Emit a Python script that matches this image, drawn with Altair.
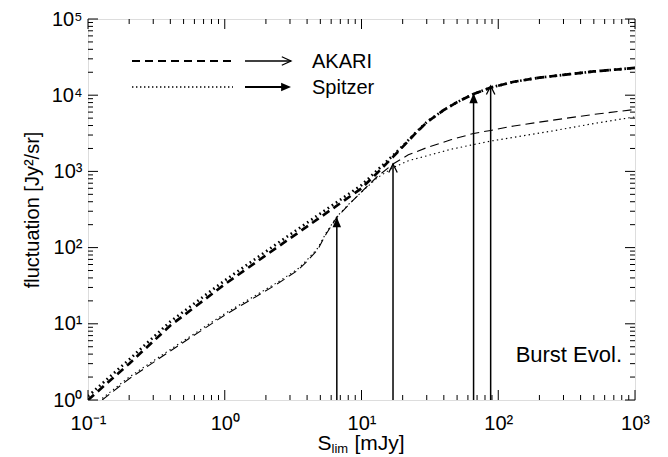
import altair as alt
import pandas as pd
import math

# ---------------- data ----------------
thick_S = [0.1, 0.2, 0.4, 1.0, 2.4, 5.0, 10, 13, 17, 20, 25, 30, 40, 50, 66, 88, 130, 200, 300, 500, 1000]
thick_akari = [1.0, 3.0, 9.5, 33, 100, 250, 600, 950, 1550, 2100, 3200, 4400, 6400, 8100, 10400, 12600, 15000, 17000, 18500, 20500, 22800]
thick_spitzer = [1.12, 3.4, 10.7, 37, 112, 280, 660, 1030, 1620, 2150, 3250, 4450, 6400, 8100, 10400, 12600, 15000, 17000, 18500, 20500, 22800]

thin_S = [0.127, 0.2, 0.4, 1.0, 2.4, 3.4, 4.0, 4.8, 5.5, 6.6, 8, 10, 13, 17, 22, 30, 45, 66, 88, 130, 250, 500, 1000]
thin_akari = [1.0, 1.9, 4.4, 13, 33, 50, 66, 95, 150, 250, 360, 540, 850, 1250, 1650, 2050, 2600, 3150, 3450, 3950, 4700, 5600, 6500]
thin_spitzer = [1.05, 2.0, 4.6, 13.6, 34.5, 52, 69, 99, 155, 255, 365, 535, 820, 1120, 1380, 1600, 1950, 2250, 2500, 2800, 3400, 4250, 5200]

arrow_S = [6.6, 17, 66, 88]
arrow_top = [250, 1250, 10600, 13200]
arrow_survey = ["Spitzer", "AKARI", "Spitzer", "AKARI"]
arrow_base = 1.0

x_major = [0.1, 1, 10, 100, 1000]
x_major_labels = ["10⁻¹", "10⁰", "10¹", "10²", "10³"]
y_major = [1, 10, 100, 1000, 10000, 100000]
y_major_labels = ["10⁰", "10¹", "10²", "10³", "10⁴", "10⁵"]
minor_mult = [2, 3, 4, 5, 6, 7, 8, 9]

# ---------------- layout ----------------
W, H = 547, 381
FONT = "Liberation Sans"
LFS = 20
xs = alt.Scale(type="log", domain=[0.1, 1000], nice=False)
ys = alt.Scale(type="log", domain=[1, 100000], nice=False)

def label_expr(vals, labels):
    parts = [f"abs(log(datum.value)/LN10 - ({math.log10(v)})) < 0.01 ? '{l}'" for v, l in zip(vals, labels)]
    return " : ".join(parts) + " : ''"

def line(S, F, width, dash):
    df = pd.DataFrame({"S": S, "F": F})
    return alt.Chart(df).mark_line(color="black", strokeWidth=width, strokeDash=dash, clip=True).encode(
        x=alt.X("S:Q", scale=xs,
                axis=alt.Axis(values=x_major, labelExpr=label_expr(x_major, x_major_labels),
                              ticks=False, domain=False, grid=False, labelFontSize=LFS,
                              labelFont=FONT, labelColor="black", labelPadding=13, title=None,
                              labelFlush=False)),
        y=alt.Y("F:Q", scale=ys,
                axis=alt.Axis(values=y_major, labelExpr=label_expr(y_major, y_major_labels),
                              ticks=False, domain=False, grid=False, labelFontSize=LFS,
                              labelFont=FONT, labelColor="black", labelPadding=6,
                              title="fluctuation [Jy²/sr]", titleFont=FONT, titleFontSize=20,
                              titleFontWeight="normal", titleColor="black", titlePadding=9,
                              labelFlush=False)),
        order="S:Q",
    )

layers = [
    line(thick_S, thick_akari, 2.7, [8, 5]),
    line(thick_S, thick_spitzer, 2.7, [1.6, 3.4]),
    line(thin_S, thin_akari, 1.1, [9, 5]),
    line(thin_S, thin_spitzer, 1.1, [1.4, 3.2]),
]

# arrows
arr = pd.DataFrame({"S": arrow_S, "top": arrow_top, "base": [arrow_base] * len(arrow_S), "survey": arrow_survey})
layers.append(alt.Chart(arr).mark_rule(color="black", strokeWidth=1.5).encode(
    x=alt.X("S:Q", scale=xs), y=alt.Y("base:Q", scale=ys), y2="top:Q"))
head_filled = "M0,0L1.2,2.8L-1.2,2.8Z"
head_open = "M-1.2,2.4L0,0L1.2,2.4"
layers.append(alt.Chart(arr).transform_filter("datum.survey == 'Spitzer'").mark_point(
    shape=head_filled, filled=True, color="black", size=50, opacity=1).encode(
    x=alt.X("S:Q", scale=xs), y=alt.Y("top:Q", scale=ys)))
layers.append(alt.Chart(arr).transform_filter("datum.survey == 'AKARI'").mark_point(
    shape=head_open, filled=False, color="black", size=50, strokeWidth=1.3, opacity=1).encode(
    x=alt.X("S:Q", scale=xs), y=alt.Y("top:Q", scale=ys)))

# ticks (inward, on all four sides)
x_minor = [m * d for d in x_major[:-1] for m in minor_mult]
y_minor = [m * d for d in y_major[:-1] for m in minor_mult]
MAJ, MIN = 10, 5
for vals, ln in ((x_major, MAJ), (x_minor, MIN)):
    d = pd.DataFrame({"v": vals})
    layers.append(alt.Chart(d).mark_rule(color="black", strokeWidth=1).encode(
        x=alt.X("v:Q", scale=xs), y=alt.value(H), y2=alt.value(H - ln)))
    layers.append(alt.Chart(d).mark_rule(color="black", strokeWidth=1).encode(
        x=alt.X("v:Q", scale=xs), y=alt.value(0), y2=alt.value(ln)))
for vals, ln in ((y_major, MAJ), (y_minor, MIN)):
    d = pd.DataFrame({"v": vals})
    layers.append(alt.Chart(d).mark_rule(color="black", strokeWidth=1).encode(
        y=alt.Y("v:Q", scale=ys), x=alt.value(0), x2=alt.value(ln)))
    layers.append(alt.Chart(d).mark_rule(color="black", strokeWidth=1).encode(
        y=alt.Y("v:Q", scale=ys), x=alt.value(W), x2=alt.value(W - ln)))

# legend
one = pd.DataFrame({"k": [0]})
LX0, LX1, AX0, AX1, TX = 44, 145, 157, 203, 224
LY1, LY2 = 42, 68
layers.append(alt.Chart(one).mark_rule(color="black", strokeWidth=2.2, strokeDash=[8, 5]).encode(
    x=alt.value(LX0), x2=alt.value(LX1), y=alt.value(LY1)))
layers.append(alt.Chart(one).mark_rule(color="black", strokeWidth=1.6, strokeDash=[1.4, 2.6]).encode(
    x=alt.value(LX0), x2=alt.value(LX1), y=alt.value(LY2)))
layers.append(alt.Chart(one).mark_rule(color="black", strokeWidth=1.3).encode(
    x=alt.value(AX0), x2=alt.value(AX1), y=alt.value(LY1)))
layers.append(alt.Chart(one).mark_rule(color="black", strokeWidth=2).encode(
    x=alt.value(AX0), x2=alt.value(AX1 - 8), y=alt.value(LY2)))
layers.append(alt.Chart(one).mark_point(shape="M-2.6,-1.2L0,0L-2.6,1.2", filled=False, color="black",
                                        size=50, strokeWidth=1.3, opacity=1).encode(
    x=alt.value(AX1), y=alt.value(LY1)))
layers.append(alt.Chart(one).mark_point(shape="M0,0L-2.8,-1.2L-2.8,1.2Z", filled=True, color="black",
                                        size=50, opacity=1).encode(
    x=alt.value(AX1), y=alt.value(LY2)))
for t, yy in (("AKARI", LY1), ("Spitzer", LY2)):
    layers.append(alt.Chart(one).mark_text(text=t, align="left", baseline="middle", font=FONT,
                                           fontSize=20, color="black").encode(
        x=alt.value(TX), y=alt.value(yy + 1)))

# annotation
layers.append(alt.Chart(one).mark_text(text="Burst Evol.", align="right", baseline="alphabetic",
                                       font=FONT, fontSize=22, color="black").encode(
    x=alt.value(W - 13), y=alt.value(H - 38)))

# x-axis title with subscript
TXC = W / 2 - 44
layers.append(alt.Chart(one).mark_text(text="S", align="left", baseline="alphabetic", font=FONT,
                                       fontSize=21, color="black").encode(
    x=alt.value(TXC), y=alt.value(H + 50)))
layers.append(alt.Chart(one).mark_text(text="lim", align="left", baseline="alphabetic", font=FONT,
                                       fontSize=13, color="black").encode(
    x=alt.value(TXC + 14), y=alt.value(H + 53)))
layers.append(alt.Chart(one).mark_text(text="[mJy]", align="left", baseline="alphabetic", font=FONT,
                                       fontSize=21, color="black").encode(
    x=alt.value(TXC + 37), y=alt.value(H + 50)))

chart = alt.layer(*layers).properties(
    width=W, height=H,
    autosize=alt.AutoSizeParams(type="none"),
    padding={"left": 80, "top": 11, "right": 20, "bottom": 55},
).configure_view(stroke="black", strokeWidth=1.3).configure(background="white")

chart.save("out.html", embed_options={"renderer": "svg", "actions": False})
